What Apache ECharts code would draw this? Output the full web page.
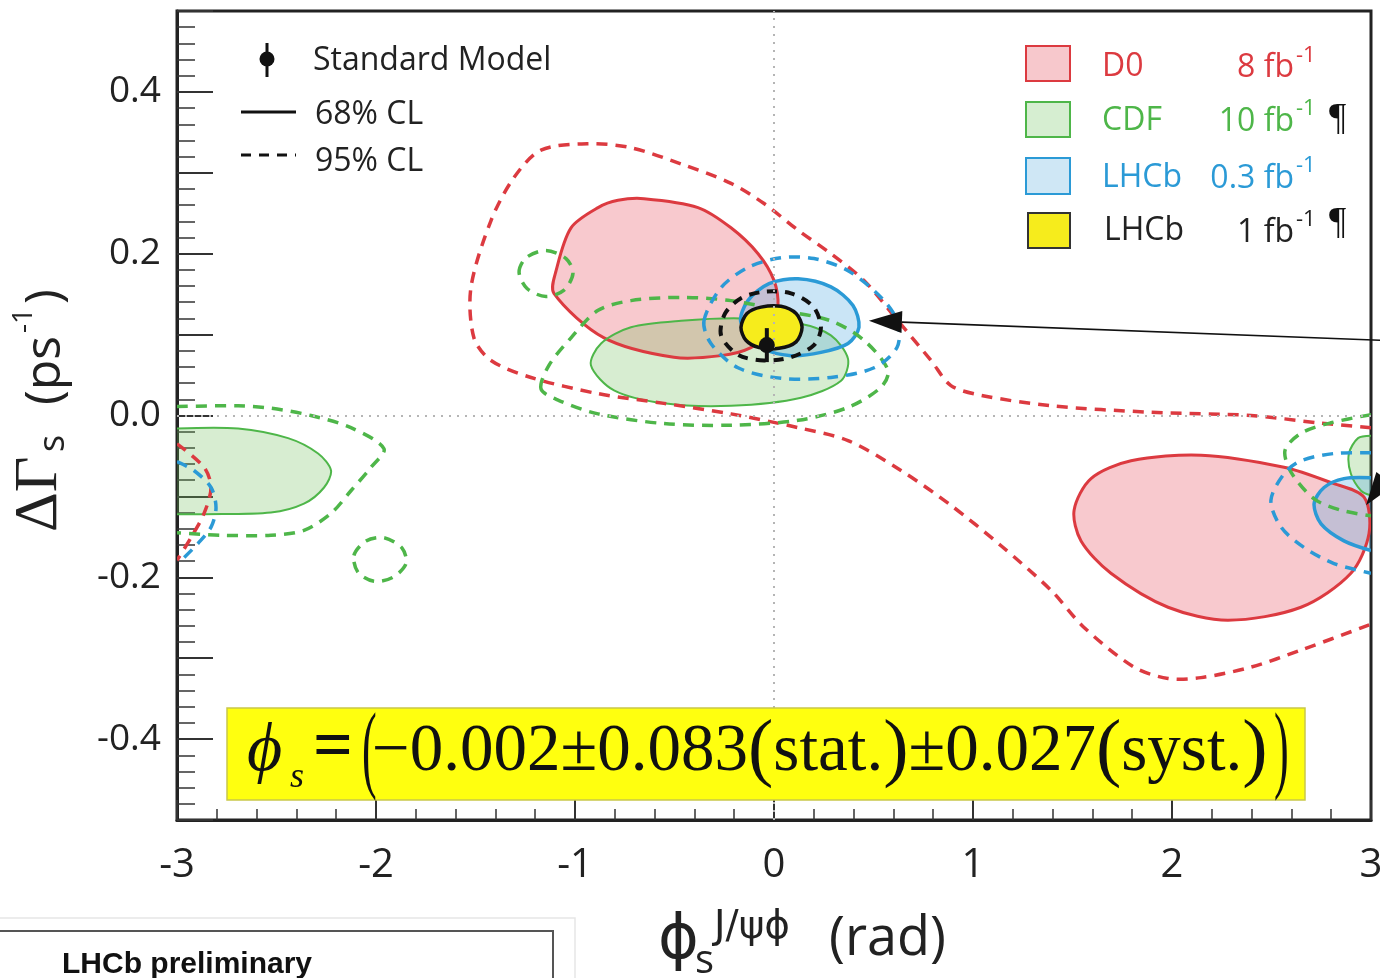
<!DOCTYPE html>
<html>
<head>
<meta charset="utf-8">
<script src="https://cdn.jsdelivr.net/npm/echarts@6/dist/echarts.min.js"></script>
<style>
html, body { margin: 0; padding: 0; background: #fff; }
#main { width: 1380px; height: 978px; }
</style>
</head>
<body>
<div id="main"></div>
<script>
// ---- axis ranges ----
const xRange = [-3, 3];
const yRange = [-0.5, 0.5];
const yLabelStep = 0.2;

// ---- Standard Model prediction: [phi_s, dGamma_s, error on dGamma_s] ----
const smPoint = [-0.036, 0.087, 0.021];

// ---- D0 8 fb-1 contours [phi_s, dGamma_s] ----
const d0_68_upper = [[-0.653,0.268],[-0.382,0.257],[-0.216,0.232],[-0.080,0.200],[0.000,0.167],[0.020,0.134],[-0.015,0.105],[-0.116,0.084],[-0.266,0.074],[-0.503,0.072],[-0.854,0.096],[-1.106,0.151],[-1.095,0.179],[-1.020,0.232],[-0.884,0.257],[-0.784,0.266]];
const d0_68_lower = [[1.508,-0.117],[1.593,-0.078],[1.794,-0.056],[2.146,-0.049],[2.563,-0.064],[2.799,-0.083],[2.965,-0.101],[2.990,-0.146],[2.899,-0.195],[2.648,-0.237],[2.281,-0.253],[1.980,-0.237],[1.693,-0.195],[1.543,-0.155]];
const d0_95_main = [[3.0,-0.015],[2.734,-0.009],[2.397,0.0],[1.894,0.004],[1.392,0.012],[1.040,0.025],[0.889,0.037],[0.789,0.068],[0.623,0.117],[0.452,0.167],[0.286,0.200],[0.121,0.229],[-0.050,0.262],[-0.216,0.287],[-0.467,0.311],[-0.719,0.331],[-0.935,0.336],[-1.171,0.328],[-1.307,0.294],[-1.422,0.241],[-1.523,0.158],[-1.508,0.096],[-1.422,0.068],[-1.221,0.047],[-0.884,0.027],[-0.553,0.015],[-0.216,0.002],[0.121,-0.015],[0.372,-0.031],[0.638,-0.068],[0.889,-0.111],[1.141,-0.161],[1.392,-0.216],[1.558,-0.262],[1.809,-0.311],[1.980,-0.325],[2.146,-0.324],[2.397,-0.311],[2.648,-0.290],[3.0,-0.258]];
const d0_95_wrap = [[-3.0,-0.035],[-2.864,-0.064],[-2.829,-0.089],[-2.864,-0.121],[-2.930,-0.151],[-3.0,-0.179]];

// ---- CDF 10 fb-1 contours ----
const cdf_68_center = [[-0.920,0.062],[-0.869,0.089],[-0.719,0.109],[-0.467,0.117],[-0.166,0.120],[0.121,0.114],[0.286,0.099],[0.372,0.070],[0.337,0.043],[0.136,0.022],[-0.216,0.012],[-0.553,0.015],[-0.804,0.031]];
const cdf_68_left = [[-3.0,-0.016],[-2.693,-0.016],[-2.442,-0.028],[-2.291,-0.047],[-2.226,-0.068],[-2.261,-0.089],[-2.362,-0.109],[-2.528,-0.120],[-2.864,-0.122],[-3.0,-0.122]];
const cdf_68_right = [[3.0,-0.025],[2.935,-0.028],[2.889,-0.047],[2.899,-0.072],[2.950,-0.093],[3.0,-0.099]];
const cdf_95_center = [[-1.171,0.033],[-1.131,0.062],[-1.020,0.096],[-0.884,0.130],[-0.719,0.142],[-0.467,0.146],[-0.216,0.142],[0.035,0.130],[0.286,0.117],[0.452,0.093],[0.573,0.056],[0.538,0.035],[0.372,0.010],[0.121,-0.006],[-0.216,-0.012],[-0.553,-0.010],[-0.884,0.002],[-1.085,0.019]];
const cdf_95_islandA = [[-1.281,0.177],[-1.246,0.195],[-1.146,0.204],[-1.045,0.194],[-1.010,0.176],[-1.055,0.155],[-1.146,0.147],[-1.241,0.157]];
const cdf_95_islandB = [[-2.111,-0.173],[-2.050,-0.155],[-1.960,-0.151],[-1.869,-0.164],[-1.849,-0.183],[-1.915,-0.200],[-2.010,-0.205],[-2.090,-0.194]];
const cdf_95_left = [[-3.0,0.011],[-2.693,0.012],[-2.528,0.009],[-2.327,0.0],[-2.126,-0.015],[-1.960,-0.041],[-2.025,-0.064],[-2.126,-0.093],[-2.226,-0.121],[-2.362,-0.142],[-2.528,-0.148],[-2.779,-0.148],[-3.0,-0.145]];
const cdf_95_right = [[3.0,0.001],[2.799,-0.009],[2.648,-0.022],[2.568,-0.043],[2.598,-0.070],[2.714,-0.103],[2.849,-0.117],[3.0,-0.124]];

// ---- LHCb 0.3 fb-1 contours ----
const lhcb03_68_center = [[-0.166,0.115],[-0.131,0.142],[-0.025,0.163],[0.121,0.169],[0.286,0.159],[0.397,0.136],[0.427,0.109],[0.372,0.089],[0.236,0.078],[0.085,0.074],[-0.050,0.083]];
const lhcb03_68_right = [[3.0,-0.077],[2.864,-0.078],[2.764,-0.089],[2.714,-0.109],[2.749,-0.134],[2.864,-0.155],[3.0,-0.167]];
const lhcb03_95_center = [[-0.352,0.117],[-0.266,0.158],[-0.131,0.183],[0.035,0.195],[0.201,0.194],[0.372,0.179],[0.538,0.146],[0.623,0.115],[0.618,0.084],[0.503,0.059],[0.286,0.047],[0.035,0.046],[-0.181,0.059],[-0.317,0.089]];
const lhcb03_95_left = [[-3.0,-0.057],[-2.915,-0.068],[-2.829,-0.089],[-2.804,-0.114],[-2.829,-0.138],[-2.894,-0.158],[-2.970,-0.177]];
const lhcb03_95_right = [[3.0,-0.046],[2.814,-0.047],[2.648,-0.056],[2.563,-0.072],[2.497,-0.105],[2.548,-0.138],[2.663,-0.163],[2.814,-0.183],[3.0,-0.195]];

// ---- LHCb 1 fb-1 contours ----
const lhcb1_68 = [[-0.166,0.109],[-0.136,0.126],[-0.065,0.134],[0.035,0.135],[0.111,0.126],[0.141,0.109],[0.111,0.091],[0.025,0.083],[-0.075,0.084],[-0.141,0.093]];
const lhcb1_95 = [[-0.266,0.099],[-0.246,0.126],[-0.166,0.145],[-0.050,0.153],[0.085,0.151],[0.196,0.135],[0.236,0.109],[0.201,0.087],[0.085,0.072],[-0.050,0.068],[-0.181,0.075]];

// ---- annotation arrows: [tail, tip] ----
const arrowToCentre = [[3.05, 0.093], [0.477, 0.117]];
const arrowToEdge = [[3.30, 0.0], [2.975, -0.111]];

// ---- colours ----
const RED = '#dc3a40', GREEN = '#4eb649', BLUE = '#2b9ad6', BLACK = '#111';
const RED_FILL = 'rgba(235,100,115,0.35)';
const GREEN_FILL = 'rgba(110,190,90,0.28)';
const BLUE_FILL = 'rgba(80,170,225,0.30)';
const YELLOW = '#f6ec1c';
const SANS = "'Open Sans', 'Noto Sans', sans-serif";
const SERIF = "'Liberation Serif', 'DejaVu Serif', serif";
const DASH = [11, 8];

// A closed or edge-clipped region drawn as a polygon through the axes' scales.
function region(points, o) {
  return {
    type: 'custom',
    coordinateSystem: 'cartesian2d',
    clip: true,
    silent: true,
    z: o.z,
    encode: { x: 0, y: 1 },
    data: points,
    renderItem: function (params, api) {
      if (params.dataIndex !== 0) return null;
      const pts = points.map(p => api.coord(p));
      const children = [];
      if (o.fill) {
        let fp = pts;
        if (o.open) {
          // close the region outside the frame, so clipping gives a straight edge
          const a = points[0], b = points[points.length - 1];
          fp = pts.concat([api.coord([b[0] * 1.1, b[1]]), api.coord([a[0] * 1.1, a[1]])]);
        }
        children.push({ type: 'polygon', shape: { points: fp, smooth: 0.3 },
          style: { fill: o.fill, stroke: 'none' } });
      }
      if (o.stroke) {
        children.push({ type: o.open ? 'polyline' : 'polygon', shape: { points: pts, smooth: 0.3 },
          style: { fill: 'none', stroke: o.stroke, lineWidth: o.width || 3, lineDash: o.dash || null, lineCap: 'butt' } });
      }
      return { type: 'group', children: children };
    }
  };
}

// Arrow from tail to tip with a solid triangular head.
function arrow(pair) {
  return {
    type: 'custom', coordinateSystem: 'cartesian2d', clip: false, silent: true, z: 6,
    encode: { x: 0, y: 1 }, data: pair,
    renderItem: function (params, api) {
      if (params.dataIndex !== 0) return null;
      const p0 = api.coord(pair[0]), p1 = api.coord(pair[1]);
      const dx = p0[0] - p1[0], dy = p0[1] - p1[1];
      const len = Math.sqrt(dx * dx + dy * dy);
      const ux = dx / len, uy = dy / len;
      const L = 33, W = 11;
      const bx = p1[0] + ux * L, by = p1[1] + uy * L;
      return { type: 'group', children: [
        { type: 'line', shape: { x1: p0[0], y1: p0[1], x2: bx, y2: by }, style: { stroke: BLACK, lineWidth: 1.6 } },
        { type: 'polygon', shape: { points: [p1, [bx - uy * W, by + ux * W], [bx + uy * W, by - ux * W]] }, style: { fill: BLACK, stroke: 'none' } }
      ] };
    }
  };
}

const series = [
  // x = 0 and y = 0 guide lines
  { type: 'line', data: [], z: 1, markLine: { silent: true, symbol: 'none', label: { show: false },
      lineStyle: { type: [2, 6], color: '#b5b5b5', width: 2 }, data: [{ xAxis: 0 }, { yAxis: 0 }] } },

  // 68% filled regions
  region(d0_68_upper, { fill: RED_FILL, z: 2 }),
  region(d0_68_lower, { fill: RED_FILL, z: 2 }),
  region(cdf_68_center, { fill: GREEN_FILL, z: 2 }),
  region(cdf_68_left, { fill: GREEN_FILL, open: true, z: 2 }),
  region(cdf_68_right, { fill: GREEN_FILL, open: true, z: 2 }),
  region(lhcb03_68_center, { fill: BLUE_FILL, z: 2 }),
  region(lhcb03_68_right, { fill: BLUE_FILL, open: true, z: 2 }),

  // 68% outlines
  region(d0_68_upper, { stroke: RED, width: 3, z: 3 }),
  region(d0_68_lower, { stroke: RED, width: 3, z: 3 }),
  region(cdf_68_center, { stroke: GREEN, width: 2, z: 3 }),
  region(cdf_68_left, { stroke: GREEN, width: 2, open: true, z: 3 }),
  region(cdf_68_right, { stroke: GREEN, width: 2, open: true, z: 3 }),
  region(lhcb03_68_center, { stroke: BLUE, width: 3.5, z: 3 }),
  region(lhcb03_68_right, { stroke: BLUE, width: 3.5, open: true, z: 3 }),

  // 95% dashed outlines
  region(d0_95_main, { stroke: RED, width: 3.5, dash: DASH, open: true, z: 3 }),
  region(d0_95_wrap, { stroke: RED, width: 3.5, dash: DASH, open: true, z: 3 }),
  region(cdf_95_center, { stroke: GREEN, width: 3.5, dash: DASH, z: 3 }),
  region(cdf_95_islandA, { stroke: GREEN, width: 3.5, dash: DASH, z: 3 }),
  region(cdf_95_islandB, { stroke: GREEN, width: 3.5, dash: DASH, z: 3 }),
  region(cdf_95_left, { stroke: GREEN, width: 3.5, dash: DASH, open: true, z: 3 }),
  region(cdf_95_right, { stroke: GREEN, width: 3.5, dash: DASH, open: true, z: 3 }),
  region(lhcb03_95_center, { stroke: BLUE, width: 3.5, dash: DASH, z: 3 }),
  region(lhcb03_95_left, { stroke: BLUE, width: 3.5, dash: DASH, open: true, z: 3 }),
  region(lhcb03_95_right, { stroke: BLUE, width: 3.5, dash: DASH, open: true, z: 3 }),

  // LHCb 1 fb-1
  region(lhcb1_68, { fill: YELLOW, stroke: BLACK, width: 3.5, z: 4 }),
  region(lhcb1_95, { stroke: BLACK, width: 4, dash: [10, 8], z: 4 }),

  // Standard Model point with its error bar
  {
    type: 'custom', coordinateSystem: 'cartesian2d', silent: true, z: 5,
    encode: { x: 0, y: 1 }, data: [smPoint],
    renderItem: function (params, api) {
      const c = api.coord([api.value(0), api.value(1)]);
      const hi = api.coord([api.value(0), api.value(1) + api.value(2)]);
      const lo = api.coord([api.value(0), api.value(1) - api.value(2)]);
      return { type: 'group', children: [
        { type: 'line', shape: { x1: hi[0], y1: hi[1], x2: lo[0], y2: lo[1] }, style: { stroke: BLACK, lineWidth: 4 } },
        { type: 'circle', shape: { cx: c[0], cy: c[1], r: 8 }, style: { fill: BLACK, stroke: 'none' } }
      ] };
    }
  },

  arrow(arrowToCentre),
  arrow(arrowToEdge)
];

// ---- legend, axis titles and result box ----
function txt(x, y, text, size, o) {
  o = o || {};
  return { type: 'text', x: x, y: y, rotation: o.rot || 0, z: 100, silent: true,
    style: { text: text, fontSize: size, fontFamily: o.family || SANS, fontWeight: o.weight || 'normal',
      fontStyle: o.style || 'normal', fill: o.color || '#222', align: o.align || 'left', verticalAlign: 'middle' } };
}
function box(x, y, w, h, fill, stroke, lw) {
  return { type: 'rect', z: 100, silent: true, shape: { x: x, y: y, width: w, height: h },
    style: { fill: fill, stroke: stroke, lineWidth: lw || 2 } };
}

const graphic = [
  // Standard Model / CL legend
  { type: 'line', z: 100, silent: true, shape: { x1: 267, y1: 43, x2: 267, y2: 77 }, style: { stroke: BLACK, lineWidth: 3 } },
  { type: 'circle', z: 100, silent: true, shape: { cx: 267, cy: 59, r: 7.5 }, style: { fill: BLACK } },
  txt(313, 61, 'Standard Model', 32),
  { type: 'line', z: 100, silent: true, shape: { x1: 241, y1: 112, x2: 296, y2: 112 }, style: { stroke: BLACK, lineWidth: 3 } },
  txt(315, 115, '68% CL', 32),
  { type: 'line', z: 100, silent: true, shape: { x1: 241, y1: 155, x2: 296, y2: 155 }, style: { stroke: BLACK, lineWidth: 3, lineDash: [10, 8] } },
  txt(315, 162, '95% CL', 32),

  // experiment legend
  box(1026, 46, 44, 35, '#f7c8cc', RED),
  box(1026, 102, 44, 35, '#d6eed1', GREEN),
  box(1026, 158, 44, 36, '#cfe7f5', BLUE),
  box(1028, 213, 42, 35, YELLOW, '#333'),
  txt(1102, 67, 'D0', 32, { color: RED }),
  txt(1102, 121, 'CDF', 32, { color: GREEN }),
  txt(1102, 178, 'LHCb', 32, { color: BLUE }),
  txt(1104, 231, 'LHCb', 32, { color: '#222' }),
  txt(1294, 68, '8 fb', 32, { color: RED, align: 'right' }),
  txt(1296, 56, '-1', 22, { color: RED }),
  txt(1294, 122, '10 fb', 32, { color: GREEN, align: 'right' }),
  txt(1296, 109, '-1', 22, { color: GREEN }),
  txt(1329, 119, '¶', 38, { family: SERIF, color: '#111' }),
  txt(1294, 179, '0.3 fb', 32, { color: BLUE, align: 'right' }),
  txt(1296, 166, '-1', 22, { color: BLUE }),
  txt(1294, 233, '1 fb', 32, { color: '#222', align: 'right' }),
  txt(1296, 220, '-1', 22, { color: '#222' }),
  txt(1329, 223, '¶', 38, { family: SERIF, color: '#111' }),

  // x-axis title
  txt(658, 942, 'ϕ', 62, { family: "'DejaVu Sans', sans-serif" }),
  txt(695, 962, 's', 40),
  txt(714, 928, 'J/ψϕ', 39, { family: "'DejaVu Sans', sans-serif" }),
  txt(829, 940, '(rad)', 54),

  // y-axis title (reads bottom to top)
  txt(40, 532, 'ΔΓ', 62, { family: SERIF, rot: Math.PI / 2 }),
  txt(54, 452, 's', 36, { rot: Math.PI / 2 }),
  txt(46, 405, '(ps', 50, { rot: Math.PI / 2 }),
  txt(24, 333, '-1', 28, { rot: Math.PI / 2 }),
  txt(46, 304, ')', 50, { rot: Math.PI / 2 }),

  // result box
  box(227, 708, 1078, 92, '#ffff0f', '#c9c84a', 1.5),
  txt(247, 752, 'ϕ', 68, { family: SERIF, style: 'italic', color: '#111' }),
  txt(290, 778, 's', 36, { family: SERIF, style: 'italic', color: '#111' }),
  txt(313, 750, '=', 70, { family: SERIF, weight: 'bold', color: '#111' }),
  { type: 'text', x: 362, y: 754, z: 100, silent: true, scaleX: 0.45,
    style: { text: '(', fontSize: 98, fontFamily: SERIF, fill: '#111', verticalAlign: 'middle' } },
  { type: 'text', x: 372, y: 752, z: 100, silent: true,
    style: { text: '−0.002±0.083{p|(}stat.{p|)}±0.027{p|(}syst.{p|)}', fontSize: 67, fontFamily: SERIF, fill: '#111', verticalAlign: 'middle',
      rich: { p: { fontSize: 76, fontFamily: SERIF, fill: '#111' } } } },
  { type: 'text', x: 1274, y: 754, z: 100, silent: true, scaleX: 0.45,
    style: { text: ')', fontSize: 98, fontFamily: SERIF, fill: '#111', verticalAlign: 'middle' } },

  // inset label at the lower left
  { type: 'rect', z: 100, silent: true, shape: { x: -2, y: 918, width: 577, height: 80 }, style: { fill: '#fff', stroke: '#e6e6e6', lineWidth: 1.5 } },
  { type: 'rect', z: 100, silent: true, shape: { x: -2, y: 931, width: 555, height: 70 }, style: { fill: '#fff', stroke: '#555', lineWidth: 2 } },
  txt(62, 965, 'LHCb preliminary', 30, { family: "'Liberation Sans', Arial, sans-serif", weight: 'bold', color: '#111' })
];

const chart = echarts.init(document.getElementById('main'));
chart.setOption({
  animation: false,
  backgroundColor: '#fff',
  grid: { left: 177, right: 9, top: 11, bottom: 158, outerBoundsMode: 'none', containLabel: false,
    show: true, borderColor: '#222', borderWidth: 3, backgroundColor: 'transparent' },
  xAxis: {
    type: 'value', min: xRange[0], max: xRange[1], interval: 1,
    axisLine: { show: true, onZero: false, lineStyle: { color: '#222', width: 3 } },
    axisTick: { show: true, inside: true, length: 20, lineStyle: { color: '#333', width: 2 } },
    minorTick: { show: true, splitNumber: 5, length: 11, lineStyle: { color: '#333', width: 1.5 } },
    splitLine: { show: false },
    axisLabel: { fontSize: 40, fontFamily: SANS, color: '#222', margin: 26 }
  },
  yAxis: {
    type: 'value', min: yRange[0], max: yRange[1], interval: 0.1,
    axisLine: { show: true, onZero: false, lineStyle: { color: '#222', width: 3 } },
    axisTick: { show: true, inside: true, length: 36, lineStyle: { color: '#333', width: 2 } },
    minorTick: { show: true, splitNumber: 5, length: 18, lineStyle: { color: '#333', width: 1.5 } },
    splitLine: { show: false },
    axisLabel: {
      fontSize: 37, fontFamily: SANS, color: '#222', margin: 16,
      formatter: function (v) {
        const k = Math.round(v / yLabelStep * 10) / 10;
        return (Math.abs(k - Math.round(k)) < 1e-6 && Math.abs(v) < 0.45) ? v.toFixed(1) : '';
      }
    }
  },
  series: series,
  graphic: graphic
});
</script>
</body>
</html>
